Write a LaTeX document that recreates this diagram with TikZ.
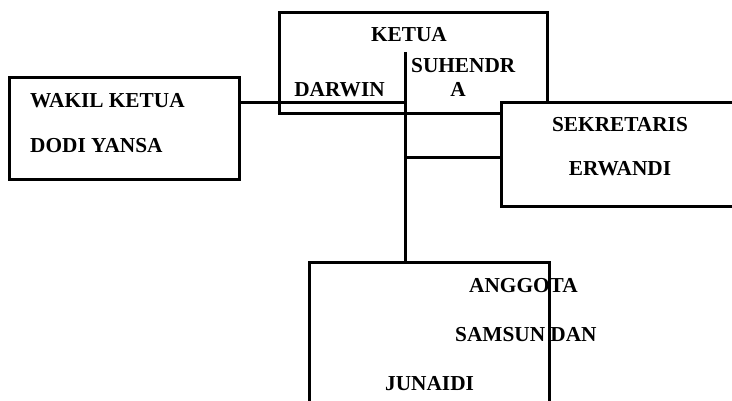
\documentclass[tikz,border=0pt]{standalone}
\usepackage{fontspec}
\setmainfont{Liberation Serif}
\begin{document}
\begin{tikzpicture}[x=1pt,y=-1pt,
  box/.style={draw, line width=3pt, inner sep=0pt},
  lbl/.style={inner sep=0pt, font=\bfseries\fontsize{21.3}{25}\selectfont},
  conn/.style={line width=3pt}]
\useasboundingbox (0,0) rectangle (732,401);
\clip (0,0) rectangle (732,401);
% boxes
\node[box, minimum width=268pt, minimum height=101pt] (ketua) at (413,63.5) {};
\node[box, minimum width=230pt, minimum height=102pt] (wakil) at (124,129) {};
\node[box, minimum width=240pt, minimum height=177pt] (anggota) at (429,351.5) {};
% connector junctions
\coordinate (vtop) at (405,52);
\coordinate (jw) at (405,103);
\coordinate (js) at (405,158);
\draw[conn] (vtop) -- (vtop |- anggota.north);
\draw[conn] (wakil.east |- jw) -- (jw);
\draw[conn] (js) -- (js -| 501,0);
\node[box, fill=white, minimum width=259pt, minimum height=104pt] (sek) at (630.5,155) {};
% texts
\node[lbl, anchor=base] (tketua) at (409,42) {KETUA};
\node[lbl, anchor=base west] (tsuh1) at (411,72.7) {SUHENDR};
\node[lbl, anchor=base] (tsuh2) at (458,96.7) {A};
\node[lbl, anchor=base] (tdar) at (339.5,96.7) {DARWIN};
\node[lbl, anchor=base west] (twak1) at (30,107.7) {WAKIL KETUA};
\node[lbl, anchor=base west] (twak2) at (30,153) {DODI YANSA};
\node[lbl, anchor=base] (tsek1) at (620,131.7) {SEKRETARIS};
\node[lbl, anchor=base] (tsek2) at (620,176) {ERWANDI};
\node[lbl, anchor=base west] (tang1) at (469,292.7) {ANGGOTA};
\node[lbl, anchor=base west] (tang2) at (455,341.7) {SAMSUN DAN};
\node[lbl, anchor=base west] (tang3) at (385,390) {JUNAIDI};
\end{tikzpicture}
\end{document}
